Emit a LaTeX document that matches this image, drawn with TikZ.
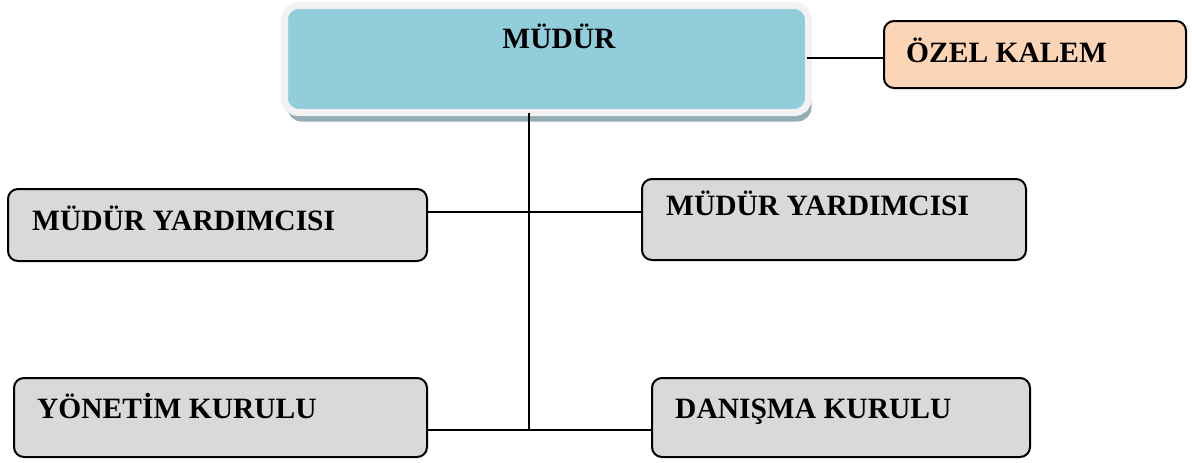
\documentclass[tikz,border=0pt]{standalone}
\usepackage{fontspec}
\setmainfont{Liberation Serif}
\usetikzlibrary{shadows}
\definecolor{mudurc}{HTML}{92CDDC}
\definecolor{framec}{HTML}{F2F2F2}
\definecolor{shadowc}{HTML}{93ADB6}
\definecolor{kalemc}{HTML}{FBD5B5}
\definecolor{birimc}{HTML}{D9D9D9}
\tikzset{
  birim/.style={anchor=north west, draw=black, line width=2pt, rounded corners=10pt, shape=rectangle, fill=birimc},
  yazi/.style={anchor=base west, inner sep=0pt, font=\fontsize{29.5}{34}\selectfont\bfseries},
  hat/.style={draw=black, line width=1.6pt}
}

\begin{document}
\begin{tikzpicture}[x=1pt,y=-1pt]
\useasboundingbox (0,0) rectangle (1192,463);

\node[anchor=north west, fill=mudurc, draw=framec, line width=7pt, rounded corners=14pt, shape=rectangle, minimum width=524pt, minimum height=107pt,
  drop shadow={shadow xshift=3pt, shadow yshift=-9pt, fill=shadowc, opacity=1}]
(mudur) at (281,2) {};
\node[birim, fill=kalemc, minimum width=302pt, minimum height=67pt]
(ozel) at (883,20) {};
\node[birim, minimum width=419pt, minimum height=72pt]
(myleft) at (7,188) {};
\node[birim, minimum width=384pt, minimum height=81pt]
(myright) at (641,178) {};
\node[birim, minimum width=413pt, minimum height=79pt]
(yonetim) at (13,377) {};
\node[birim, minimum width=378pt, minimum height=79pt]
(danisma) at (651,377) {};

% hat noktalari
\coordinate (ust) at (529,113);
\coordinate (orta) at (529,212);
\coordinate (alt) at (529,430);
\coordinate (kalemhat) at (807,58);

\draw[hat] (ust) -- (alt);
\draw[hat] (myleft.east |- orta) -- (myright.west |- orta);
\draw[hat] (yonetim.east |- alt) -- (danisma.west |- alt);
\draw[hat] (kalemhat) -- (ozel.west |- kalemhat);

\node[yazi, anchor=base] (mudurtxt) at (559,48) {MÜDÜR};
\node[yazi] (kalemtxt) at (906,62) {ÖZEL KALEM};
\node[yazi] (mylefttxt) at (32,230) {MÜDÜR YARDIMCISI};
\node[yazi] (myrighttxt) at (666,215) {MÜDÜR YARDIMCISI};
\node[yazi] (yonetimtxt) at (37,418) {YÖNETİM KURULU};
\node[yazi] (danismatxt) at (675,418) {DANIŞMA KURULU};

\end{tikzpicture}
\end{document}
